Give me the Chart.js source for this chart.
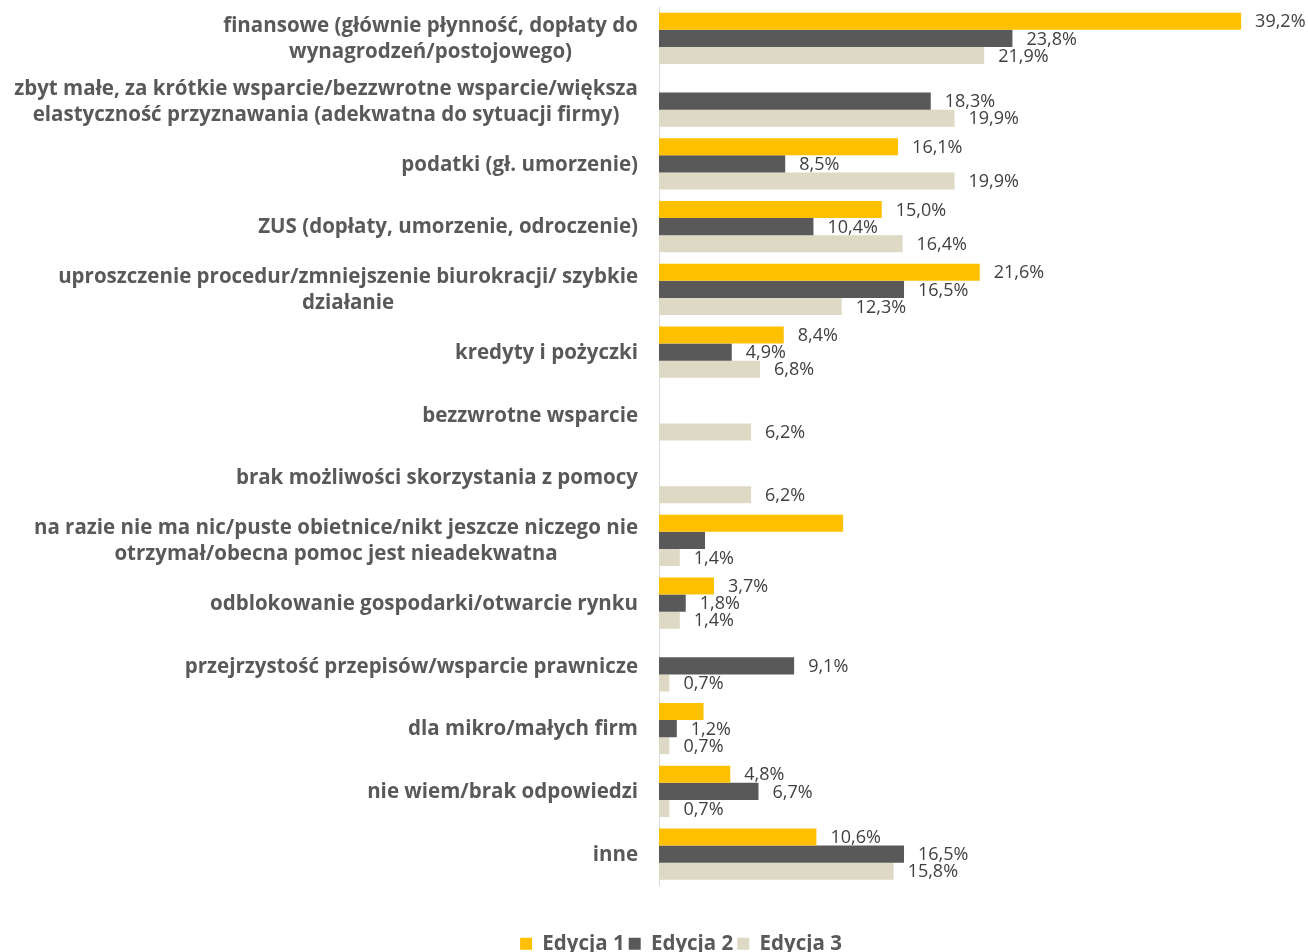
<!DOCTYPE html>
<html>
<head>
<meta charset="utf-8">
<script src="https://cdn.jsdelivr.net/npm/chart.js@4.4.1/dist/chart.umd.min.js"></script>
<style>
  html, body { margin: 0; padding: 0; background: #ffffff; }
  #wrap { width: 1308px; height: 952px; position: relative; }
</style>
</head>
<body>
<div id="wrap"><canvas id="chart"></canvas></div>
<script>
// Answer categories (each entry is the list of lines of the label)
const categories = [
  ['finansowe (głównie płynność, dopłaty do', 'wynagrodzeń/postojowego)'],
  ['zbyt małe, za krótkie wsparcie/bezzwrotne wsparcie/większa', 'elastyczność przyznawania (adekwatna do sytuacji firmy)'],
  ['podatki (gł. umorzenie)'],
  ['ZUS (dopłaty, umorzenie, odroczenie)'],
  ['uproszczenie procedur/zmniejszenie biurokracji/ szybkie', 'działanie'],
  ['kredyty i pożyczki'],
  ['bezzwrotne wsparcie'],
  ['brak możliwości skorzystania z pomocy'],
  ['na razie nie ma nic/puste obietnice/nikt jeszcze niczego nie', 'otrzymał/obecna pomoc jest nieadekwatna'],
  ['odblokowanie gospodarki/otwarcie rynku'],
  ['przejrzystość przepisów/wsparcie prawnicze'],
  ['dla mikro/małych firm'],
  ['nie wiem/brak odpowiedzi'],
  ['inne']
];

const seriesNames = ['Edycja 1', 'Edycja 2', 'Edycja 3'];

// Shares of answers, in percent
const edycja1 = [39.2, null, 16.1, 15.0, 21.6, 8.4, null, null, 12.4, 3.7, null, 3.0, 4.8, 10.6];
const edycja2 = [23.8, 18.3, 8.5, 10.4, 16.5, 4.9, null, null, 3.1, 1.8, 9.1, 1.2, 6.7, 16.5];
const edycja3 = [21.9, 19.9, 19.9, 16.4, 12.3, 6.8, 6.2, 6.2, 1.4, 1.4, 0.7, 0.7, 0.7, 15.8];

// Bars printed without a value figure: [series index, category index]
const unlabeled = [[0, 8], [1, 8], [0, 11]];

const seriesColors = ['#FFC000', '#595959', '#DDD9C4'];
const TEXT_GREY = '#595959';
const VALUE_GREY = '#404040';
const CAT_FONT = 'bold 20.5px "Open Sans", sans-serif';
const VALUE_FONT = '18px "Open Sans", sans-serif';

// Category names: right-aligned block next to the axis, lines centred inside it
const categoryLabels = {
  id: 'categoryLabels',
  afterDraw(chart) {
    const ctx = chart.ctx;
    const yScale = chart.scales.y;
    const rightEdge = chart.chartArea.left - 21;
    const lineH = 26;
    ctx.save();
    ctx.font = CAT_FONT;
    ctx.fillStyle = TEXT_GREY;
    ctx.textAlign = 'center';
    ctx.textBaseline = 'middle';
    categories.forEach((lines, i) => {
      const y = yScale.getPixelForValue(i);
      const widest = Math.max(...lines.map(l => ctx.measureText(l).width));
      const cx = rightEdge - widest / 2;
      lines.forEach((line, j) => {
        ctx.fillText(line, cx, y + (j - (lines.length - 1) / 2) * lineH + 1);
      });
    });
    ctx.restore();
  }
};

// Value figures at the end of each bar
const valueLabels = {
  id: 'valueLabels',
  afterDatasetsDraw(chart) {
    const ctx = chart.ctx;
    ctx.save();
    ctx.font = VALUE_FONT;
    ctx.fillStyle = VALUE_GREY;
    ctx.textAlign = 'left';
    ctx.textBaseline = 'middle';
    chart.data.datasets.forEach((ds, di) => {
      const meta = chart.getDatasetMeta(di);
      meta.data.forEach((bar, i) => {
        const v = ds.data[i];
        if (v === null || v === undefined) return;
        if (unlabeled.some(([s, c]) => s === di && c === i)) return;
        const text = v.toFixed(1).replace('.', ',') + '%';
        ctx.fillText(text, bar.x + 14, bar.y + 1);
      });
    });
    ctx.restore();
  }
};

new Chart(document.getElementById('chart'), {
  type: 'bar',
  data: {
    labels: categories,
    datasets: [edycja1, edycja2, edycja3].map((values, k) => ({
      label: seriesNames[k],
      data: values,
      backgroundColor: seriesColors[k],
      borderWidth: 0,
      categoryPercentage: 0.815,
      barPercentage: 1.0
    }))
  },
  options: {
    indexAxis: 'y',
    responsive: true,
    maintainAspectRatio: false,
    animation: false,
    layout: { padding: { left: 109, right: 55, top: 7, bottom: -12 } },
    scales: {
      x: {
        min: 0,
        max: 40,
        display: true,
        ticks: { display: false },
        grid: { display: false, drawTicks: false },
        border: { display: false },
        afterFit(scale) { scale.height = 44; }
      },
      y: {
        display: true,
        ticks: { display: false },
        grid: { display: false, drawTicks: false },
        border: { display: true, color: '#D9D9D9', width: 1 },
        afterFit(scale) { scale.width = 550; }
      }
    },
    plugins: {
      tooltip: { enabled: false },
      legend: {
        position: 'bottom',
        labels: {
          boxWidth: 12,
          boxHeight: 12,
          padding: 4,
          color: TEXT_GREY,
          font: { family: '"Open Sans", sans-serif', size: 20.5, weight: 'bold' }
        }
      }
    }
  },
  plugins: [categoryLabels, valueLabels]
});
</script>
</body>
</html>
